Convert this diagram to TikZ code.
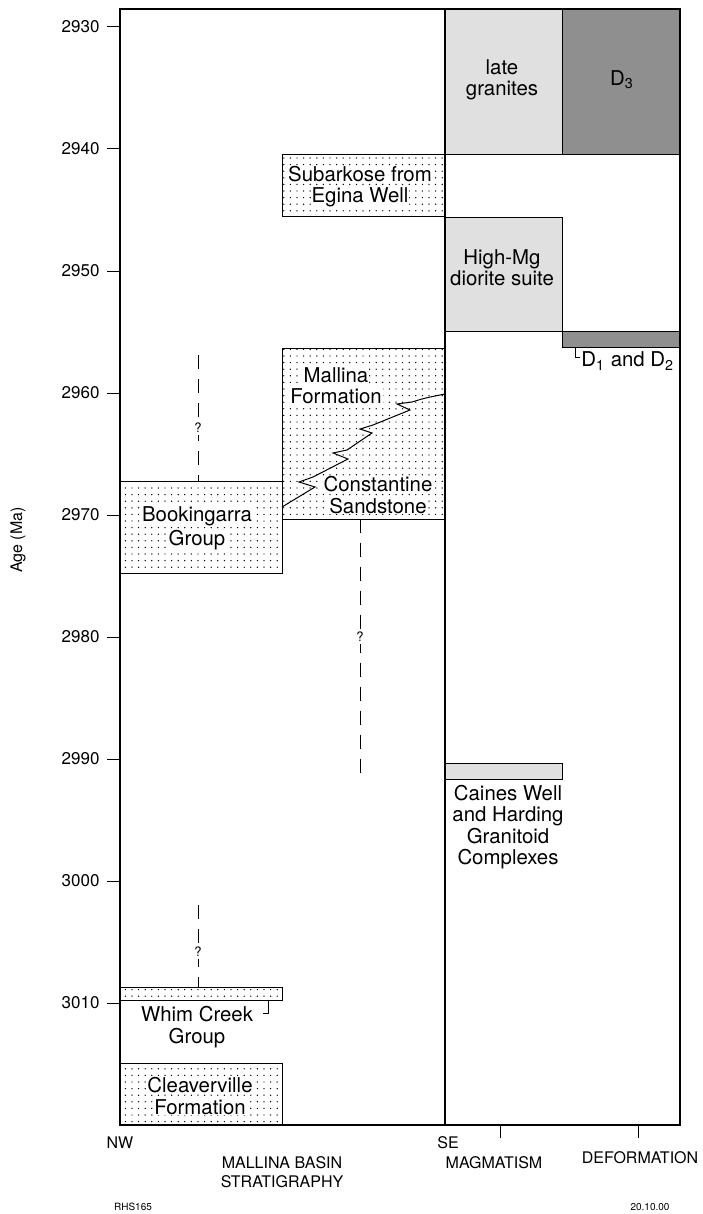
\documentclass[tikz,border=0pt]{standalone}
\usepackage{fontspec}
\setmainfont{TeX Gyre Heros}
\usetikzlibrary{fit,patterns.meta}
\definecolor{granfill}{gray}{0.88}
\definecolor{defofill}{gray}{0.56}
\newcommand{\knock}[1]{{\setlength{\fboxsep}{0.5pt}\colorbox{white}{#1}}}

\begin{document}
\begin{tikzpicture}[x=0.5pt,y=-0.5pt,
			unit/.style={draw,line width=0.5pt,inner sep=0pt,outer sep=0pt},
			sed/.style={unit,pattern={Dots[distance=3.3pt,radius=0.36pt]}},
			gran/.style={unit,fill=granfill},
			defo/.style={unit,fill=defofill},
			lbl/.style={align=center,inner sep=0pt,font=\fontsize{10.2}{10.6}\selectfont},
			axlbl/.style={inner sep=0pt,font=\fontsize{8}{9.6}\selectfont},
			agelbl/.style={anchor=east,inner sep=0pt,font=\fontsize{8.5}{9}\selectfont},
			qmark/.style={fill=white,inner sep=1pt,font=\fontsize{6.5}{7}\selectfont},
			dashq/.style={line width=0.5pt,dash pattern=on 7pt off 5pt}
			]
			\useasboundingbox (0,0) rectangle (702,1214);
			% magmatism and deformation
			\node[gran,fit={(445,9) (562,155)}] (lg) {};
			\node[defo,fit={(562,9) (680,155)}] (d3) {};
			\node[gran,fit={(445,218) (562,331)}] (hmg) {};
			\node[defo,fit={(562,331) (680,347)}] (d12) {};
			\node[gran,fit={(445,763) (562,779)}] (cw) {};
			% basin units
			\node[sed,fit={(282,155) (445,217)}] (sub) {};
			\node[sed,fit={(282,348) (445,519)}] (mal) {};
			\node[sed,fit={(120,481) (282,573)}] (bk) {};
			\node[sed,fit={(120,987) (282,1000)}] (wc) {};
			\node[sed,fit={(120,1063) (282,1125)}] (cv) {};
			% frame
			\draw[line width=1.2pt] (120,9) rectangle (680,1125);
			\draw[line width=1.2pt] (445,9) -- (445,1125);
			\foreach \a in {2930,2940,...,3010}
			\draw[line width=0.5pt] (107,{27+12.2*(\a-2930)}) -- (120,{27+12.2*(\a-2930)})
			node[agelbl] at (100,{27+12.2*(\a-2930)}) {\a};
			\draw[line width=0.5pt] (500,1125) -- (500,1138);
			\draw[line width=0.5pt] (638,1125) -- (638,1138);
			% interfingering
			\draw[line width=0.5pt] (282,507) -- (315,487) -- (299,482) -- (313,477) -- (348,459)
			-- (333,453) -- (347,450) -- (372,433) -- (360,429) -- (373,425) -- (410,410)
			-- (397,404) -- (412,402) .. controls (425,398) .. (445,394);
			% labels
			\node[lbl] (lgt) at (502,80) {late\\granites};
			\node[lbl] (d3t) at (622,80) {D\textsubscript{3}};
			\node[lbl] (subt) at (360,187) {\knock{Subarkose from}\\\knock{Egina Well}};
			\node[lbl] (hmgt) at (502,268) {High-Mg\\diorite suite};
			\node[lbl] (malt) at (336,386) {\knock{Mallina}\\\knock{Formation}};
			\node[lbl] (cst) at (378,495) {\knock{Constantine}\\\knock{Sandstone}};
			\node[lbl] (bkt) at (197,528) {\knock{Bookingarra}\\\knock{Group}};
			\node[lbl] (wct) at (197,1027) {Whim Creek\\Group};
			\node[lbl] (cvt) at (200,1096) {\knock{Cleaverville}\\\knock{Formation}};
			\node[lbl] (cwt) at (508,827) {Caines Well\\and Harding\\Granitoid\\Complexes};
			\node[lbl,anchor=west] (d12t) at (581,361) {D\textsubscript{1} and D\textsubscript{2}};
			% leaders
			\coordinate (dl) at (575,357);
			\draw[line width=0.5pt] (dl |- d12.south) -- (dl) -- ++(5,0);
			\coordinate (wcl) at (268,1013);
			\draw[line width=0.5pt] (wcl |- wc.south) -- (wcl) -- ++(-5,0);
			% uncertain extents
			\coordinate (q1) at (198,355);
			\draw[dashq] (q1) -- (q1 |- bk.north);
			\node[qmark] at (198,428) {?};
			\coordinate (q2) at (360,782);
			\draw[dashq] (q2 |- mal.south) -- (q2);
			\node[qmark] at (360,637) {?};
			\coordinate (q3) at (198,905);
			\draw[dashq] (q3) -- (q3 |- wc.north);
			\node[qmark] at (198,952) {?};
			% axis texts
			\node[axlbl] (nw) at (120,1143) {NW};
			\node[axlbl] (se) at (448,1143) {SE};
			\node[axlbl,align=center] (mbs) at (282,1172) {MALLINA BASIN\\STRATIGRAPHY};
			\node[axlbl] (mag) at (494,1163) {MAGMATISM};
			\node[axlbl] (def) at (640,1158) {DEFORMATION};
			\node[axlbl,rotate=90] (age) at (18,540) {Age (Ma)};
			\node[inner sep=0pt,font=\fontsize{5}{6}\selectfont] (ref) at (133,1207) {RHS165};
			\node[inner sep=0pt,font=\fontsize{5}{6}\selectfont] (date) at (650,1207) {20.10.00};
		\end{tikzpicture}
\end{document}
